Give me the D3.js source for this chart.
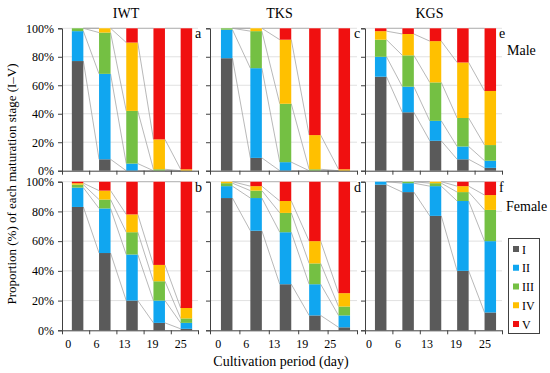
<!DOCTYPE html>
<html>
<head>
<meta charset="utf-8">
<script src="https://cdn.jsdelivr.net/npm/d3@7"></script>
<style>
  body { margin: 0; background: #fff; }
  svg text { font-family: "Liberation Serif", "DejaVu Serif", serif !important; fill: #000; }
</style>
</head>
<body>
<div id="chart"></div>
<script>
// Categories and stages
var days = ["0", "6", "13", "19", "25"];
var stages = ["I", "II", "III", "IV", "V"];
var stageColors = ["#5a5a5a", "#10a6f0", "#74c043", "#ffc000", "#f01010"];
var yTicks = [0, 20, 40, 60, 80, 100];

// Proportions (%) of stages I..V, one row per cultivation day
var iwtMale   = [[77, 21, 2, 0, 0], [8, 60, 29, 3, 0], [0, 5, 37, 48, 10], [0, 0, 1, 21, 78], [0, 0, 0, 1, 99]];
var tksMale   = [[79, 20, 1, 0, 0], [9, 63, 26, 2, 0], [0, 6, 41, 45, 8], [0, 0, 1, 24, 75], [0, 0, 0, 1, 99]];
var kgsMale   = [[66, 14, 12, 6, 2], [41, 18, 22, 15, 4], [21, 14, 27, 29, 9], [8, 9, 20, 39, 24], [2, 5, 11, 38, 44]];
var iwtFemale = [[83, 13, 2, 1, 1], [52, 30, 6, 6, 6], [20, 31, 15, 12, 22], [5, 15, 13, 11, 56], [1, 4, 3, 7, 85]];
var tksFemale = [[89, 8, 2, 1, 0], [67, 22, 5, 3, 3], [31, 35, 13, 8, 13], [10, 21, 14, 15, 40], [2, 8, 6, 9, 75]];
var kgsFemale = [[98, 2, 0, 0, 0], [93, 6, 1, 0, 0], [77, 20, 2, 1, 0], [40, 47, 6, 4, 3], [12, 48, 21, 10, 9]];

var siteNames = ["IWT", "TKS", "KGS"];
var panelLetters = [["a", "c", "e"], ["b", "d", "f"]];
var panelData = [[iwtMale, tksMale, kgsMale], [iwtFemale, tksFemale, kgsFemale]];
var sexLabels = ["Male", "Female"];

// Layout of the grid
var cols = [
  { x0: 62, x1: 198, lx0: 68.3, lx1: 180.7 },
  { x0: 210, x1: 357, lx0: 218.3, lx1: 330.3 },
  { x0: 365, x1: 502, lx0: 369, lx1: 485 }
];
var rows = [
  { y0: 28.3, y1: 170.7 },
  { y0: 181.7, y1: 330.3 }
];
var barW = 11.5;
var serif = "'Liberation Serif', 'DejaVu Serif', serif";

var svg = d3.select("#chart")
  .append("svg")
  .attr("width", 550)
  .attr("height", 373)
  .attr("font-family", serif);

var stack = d3.stack().keys(d3.range(5));

rows.forEach(function (row, r) {
  cols.forEach(function (col, c) {
    var data = panelData[r][c];
    var g = svg.append("g");

    var x = d3.scaleBand().domain(days).range([col.x0, col.x1]);
    var y = d3.scaleLinear().domain([0, 100]).range([row.y1, row.y0]);
    var xTick = d3.scaleLinear().domain([0, 5]).range([col.x0, col.x1]);
    var xLab = d3.scalePoint().domain(days).range([col.lx0, col.lx1]);

    // Gridlines
    g.append("g")
      .selectAll("line")
      .data(yTicks.slice(1))
      .enter()
      .append("line")
      .attr("x1", col.x0).attr("x2", col.x1)
      .attr("y1", function (d) { return y(d); })
      .attr("y2", function (d) { return y(d); })
      .attr("stroke", "#d9d9d9")
      .attr("stroke-width", 0.8);

    var rowsObj = data.map(function (v, i) {
      var o = { day: days[i] };
      v.forEach(function (p, k) { o[k] = p; });
      return o;
    });
    var series = stack(rowsObj);

    function barLeft(d) { return x(d) + (x.bandwidth() - barW) / 2 + 2; }

    // Series lines between bars
    series.forEach(function (s) {
      for (var i = 0; i < days.length - 1; i++) {
        g.append("line")
          .attr("x1", barLeft(days[i]) + barW)
          .attr("x2", barLeft(days[i + 1]))
          .attr("y1", y(s[i][1]))
          .attr("y2", y(s[i + 1][1]))
          .attr("stroke", "#a6a6a6")
          .attr("stroke-width", 0.8);
      }
    });

    // Stacked bars
    g.append("g")
      .selectAll("g")
      .data(series)
      .enter()
      .append("g")
      .attr("fill", function (s) { return stageColors[s.key]; })
      .selectAll("rect")
      .data(function (s) { return s; })
      .enter()
      .append("rect")
      .attr("x", function (d) { return barLeft(d.data.day); })
      .attr("width", barW)
      .attr("y", function (d) { return y(d[1]); })
      .attr("height", function (d) { return y(d[0]) - y(d[1]); });

    // Y axis
    var yAxis = g.append("g")
      .attr("transform", "translate(" + col.x0 + ",0)")
      .call(d3.axisLeft(y).tickValues(yTicks).tickSize(4).tickPadding(4)
        .tickFormat(c === 0 ? function (d) { return d + "%"; } : ""));
    yAxis.attr("font-family", serif).attr("font-size", 12);
    yAxis.select(".domain").attr("stroke", "#404040");
    yAxis.selectAll(".tick line").attr("stroke", "#404040");
    yAxis.selectAll("text").attr("fill", "#000");

    // X axis with ticks between categories
    var xAxis = g.append("g")
      .attr("transform", "translate(0," + row.y1 + ")")
      .call(d3.axisBottom(xTick).tickValues(d3.range(6)).tickSize(4).tickSizeOuter(0).tickFormat(""));
    xAxis.select(".domain").attr("stroke", "#404040");
    xAxis.selectAll(".tick line").attr("stroke", "#404040");

    if (r === 1) {
      g.append("g")
        .selectAll("text")
        .data(days)
        .enter()
        .append("text")
        .attr("x", function (d) { return xLab(d); })
        .attr("y", row.y1 + 18)
        .attr("font-family", serif)
        .style("text-anchor", "middle")
        .style("font-size", "12px")
        .text(function (d) { return d; });
    }

    // Panel letter
    g.append("text")
      .attr("x", col.x1 - 3)
      .attr("y", row.y0 + 10)
      .attr("font-family", serif)
      .style("font-size", "14px")
      .text(panelLetters[r][c]);

    if (r === 0) {
      g.append("text")
        .attr("x", (col.x0 + col.x1) / 2 - 4)
        .attr("y", 18)
        .attr("font-family", serif)
        .style("text-anchor", "middle")
        .style("font-size", "14px")
        .text(siteNames[c]);
    }
  });
});

// Sex labels
svg.append("text").attr("x", 507).attr("y", 55).style("font-size", "14px").text(sexLabels[0]);
svg.append("text").attr("x", 506).attr("y", 211).style("font-size", "14px").text(sexLabels[1]);

// Axis titles
svg.append("text")
  .attr("transform", "translate(16,184) rotate(-90)")
  .style("text-anchor", "middle")
  .style("font-size", "13px")
  .text("Proportion (%) of each maturation stage (I\u2013V)");

svg.append("text")
  .attr("x", 281)
  .attr("y", 366)
  .style("text-anchor", "middle")
  .style("font-size", "14px")
  .text("Cultivation period (day)");

// Legend
var legend = svg.append("g");
legend.append("rect")
  .attr("x", 508.5).attr("y", 238.5)
  .attr("width", 31).attr("height", 95)
  .attr("fill", "#fff")
  .attr("stroke", "#404040")
  .attr("stroke-width", 1);

var ly = d3.scalePoint().domain(stages).range([249, 324]);
stages.forEach(function (s, i) {
  legend.append("rect")
    .attr("x", 513).attr("y", ly(s) - 3)
    .attr("width", 6).attr("height", 6)
    .attr("fill", stageColors[i]);
  legend.append("text")
    .attr("x", 522).attr("y", ly(s) + 4.5)
    .style("font-size", "12px")
    .text(s);
});
</script>
</body>
</html>
